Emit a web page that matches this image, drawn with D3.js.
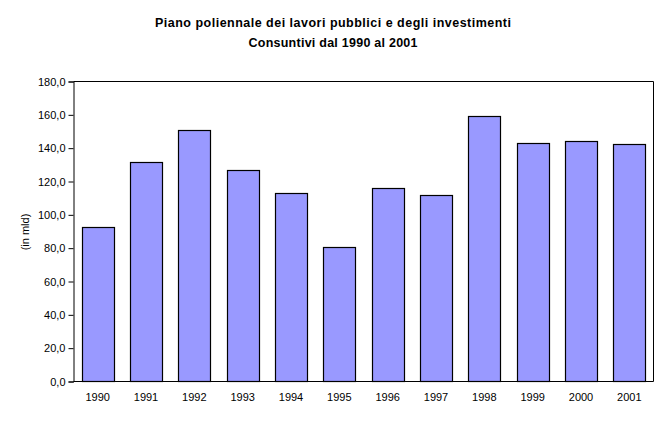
<!DOCTYPE html>
<html><head><meta charset="utf-8">
<script src="https://cdn.jsdelivr.net/npm/d3@7"></script>
<style>body{margin:0;background:#fff}svg{display:block}text{font-family:"Liberation Sans",Arial,sans-serif}</style>
</head><body>
<svg id="c" width="668" height="423"></svg>
<script>
const years = ["1990","1991","1992","1993","1994","1995","1996","1997","1998","1999","2000","2001"];
const values = [92.7,131.6,150.8,126.8,113.0,80.7,116.0,111.8,159.3,143.0,144.2,142.4];
const yTicks = [0,20,40,60,80,100,120,140,160,180];
const titleLines = ["Piano poliennale dei lavori pubblici e degli investimenti","Consuntivi dal 1990 al 2001"];
const yTitle = "(in mld)";

const svg = d3.select("#c");
const L = 73.5, R = 653.5, T = 81.5, B = 381.5;
const x = d3.scaleBand().domain(years).range([L, R]).paddingInner(0.34).paddingOuter(0.17);
const y = d3.scaleLinear().domain([0,180]).range([B, T]);

// plot frame (top & right)
svg.append("path").attr("d", `M${L},${T}H${R}V${B}`).attr("fill","none").attr("stroke","#000").attr("stroke-width",1);

svg.selectAll("rect.bar").data(values).join("rect").attr("class","bar")
  .attr("x",(d,i)=>Math.round(x(years[i]))+0.5).attr("width",Math.round(x.bandwidth()))
  .attr("y",d=>Math.round(y(d))+0.5).attr("height",d=>B-Math.round(y(d))-0.5)
  .attr("fill","#9999FF").attr("stroke","#000").attr("stroke-width",1.2);

const fmt = d => d.toFixed(1).replace(".",",");
const ya = svg.append("g").attr("transform",`translate(${L},0)`)
  .call(d3.axisLeft(y).tickValues(yTicks).tickFormat(fmt).tickSize(5).tickPadding(3));
ya.select(".domain").attr("stroke","#000");
ya.selectAll("text").attr("font-size","11px").attr("fill","#000").style("font-family","'Liberation Sans',Arial,sans-serif");

const xa = svg.append("g").attr("transform",`translate(0,${B})`)
  .call(d3.axisBottom(x).tickSize(0).tickPadding(12));
xa.select(".domain").attr("d",`M${L},0H${R}`).attr("stroke","#000");
xa.selectAll("text").attr("font-size","11px").attr("fill","#000").style("font-family","'Liberation Sans',Arial,sans-serif");

svg.append("text").attr("transform","translate(29,232) rotate(-90)").attr("text-anchor","middle")
  .attr("font-size","11px").text(yTitle);

const titleW = [356, 169];
svg.selectAll("text.title").data(titleLines).join("text").attr("class","title")
  .attr("x",(d,i)=>333 - titleW[i]/2).attr("y",(d,i)=>27+i*20)
  .attr("textLength",(d,i)=>titleW[i]).attr("lengthAdjust","spacing")
  .attr("font-size","12.5px").attr("font-weight","bold").text(d=>d);
</script>
</body></html>
